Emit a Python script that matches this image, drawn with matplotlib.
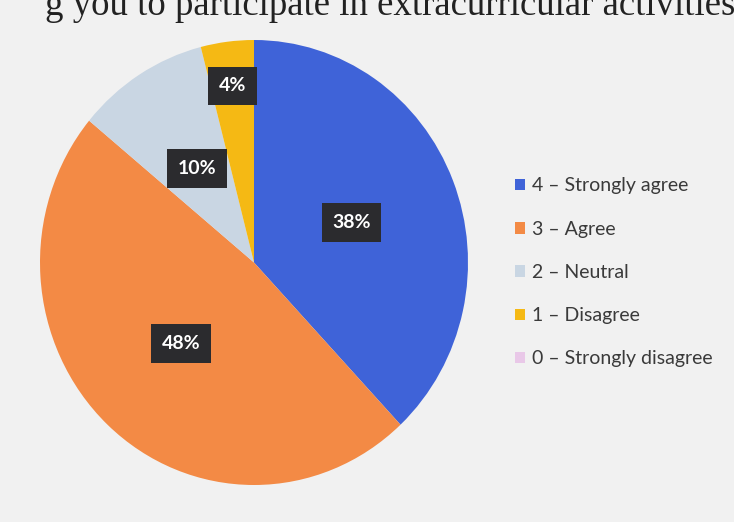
import matplotlib.pyplot as plt
import numpy as np

labels = ["4 – Strongly agree", "3 – Agree", "2 – Neutral", "1 – Disagree", "0 – Strongly disagree"]
shares = [38, 48, 10, 4, 0]
pct_labels = ["38%", "48%", "10%", "4%", ""]
colors = ["#3f63d8", "#f38a45", "#c9d6e3", "#f5b914", "#e9c8e8"]
label_dist = [0.49, 0.5, 0.5, 0.8, 0.5]

fig = plt.figure(figsize=(7.34, 5.22), dpi=100, facecolor="#f1f1f1")

# pie axes, slightly taller than wide like the photographed chart
ax = fig.add_axes([40 / 734, (522 - 485) / 522, 428 / 734, 445 / 522])
wedges, _ = ax.pie(shares, colors=colors, startangle=90, counterclock=False,
                   wedgeprops=dict(linewidth=0))
ax.set_aspect("auto")
ax.set_xlim(-1, 1)
ax.set_ylim(-1, 1)
ax.axis("off")

for w, txt, d in zip(wedges, pct_labels, label_dist):
    if not txt:
        continue
    mid = np.deg2rad((w.theta1 + w.theta2) / 2)
    ax.text(d * np.cos(mid), d * np.sin(mid), txt, ha="center", va="center",
            color="white", fontsize=14, fontweight="bold", family="Lato",
            bbox=dict(boxstyle="square,pad=0.55", fc="#2b2b2e", ec="none"))

leg = fig.legend(wedges, labels, loc="upper left", bbox_to_anchor=(497 / 734, 1 - 160 / 522),
                 frameon=False, handlelength=0.55, handleheight=0.55, handletextpad=0.35,
                 labelspacing=1.35, prop=dict(family="Lato", size=14))
for t in leg.get_texts():
    t.set_color("#3a3a3a")

# title of the original slide, cut off at the top of the photo
fig.text(45 / 734, 1 - 15 / 522, "g you to participate in extracurricular activities",
         family="Liberation Serif", fontsize=26.5, color="#222222", ha="left", va="baseline")

fig.savefig("out.png", dpi=100, facecolor=fig.get_facecolor())
